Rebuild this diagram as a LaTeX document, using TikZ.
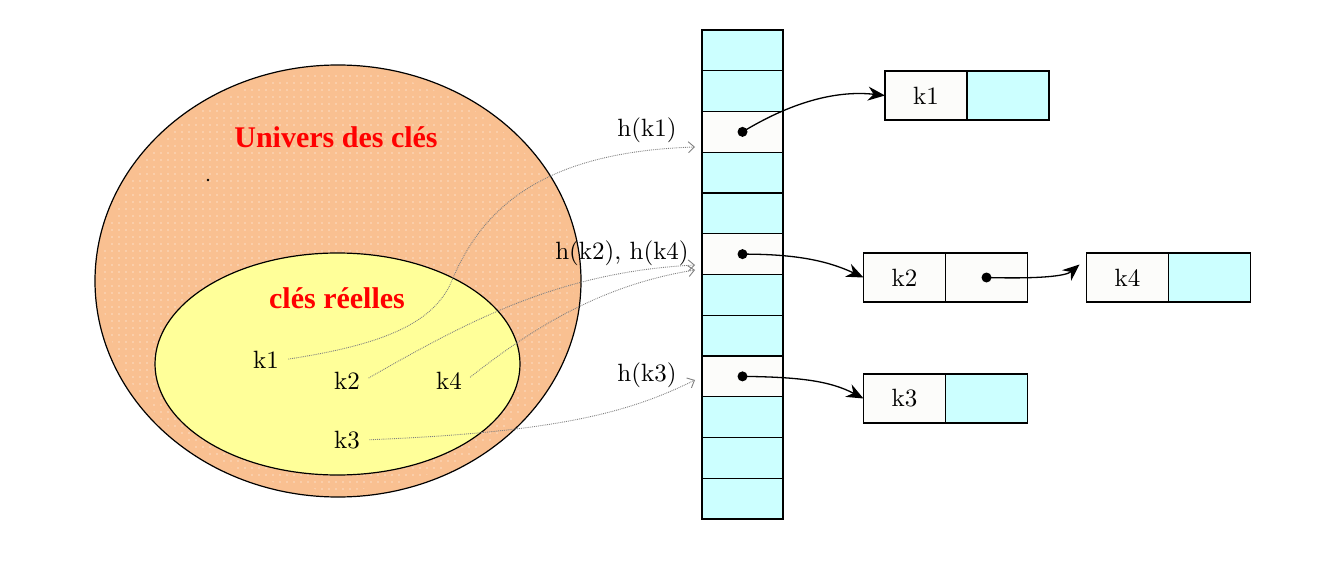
\documentclass[tikz,border=0pt]{standalone}
\usepackage{fontspec}
\newfontfamily\titrefont{Liberation Serif}
\newfontfamily\clefont{lmroman10-regular.otf}
\usetikzlibrary{positioning,arrows.meta,patterns.meta}

\definecolor{peche}{RGB}{249,192,145}
\definecolor{jaune}{RGB}{255,255,153}
\definecolor{cyanclair}{RGB}{204,255,255}
\definecolor{blanccase}{RGB}{252,252,250}

\tikzset{
  casetab/.style={draw, line width=1.2pt, minimum width=81pt, minimum height=40.75pt,
    inner sep=0pt, outer sep=0pt},
  boite/.style={draw, line width=1.2pt, minimum width=82pt, minimum height=49pt,
    inner sep=0pt, outer sep=0pt, fill=blanccase, font=\clefont\fontsize{25}{28}\selectfont},
  ptr/.style={line width=1.3pt, -{Stealth[length=17pt,width=14pt]}},
  hache/.style={densely dotted, gray, line width=0.9pt, shorten <=6pt,
    -{Straight Barb[length=6pt,width=11pt]}},
  cle/.style={font=\clefont\fontsize{25}{28}\selectfont},
  titre/.style={text=red, font=\titrefont\bfseries\fontsize{30}{34}\selectfont},
}

\begin{document}
\begin{tikzpicture}[x=1pt, y=-1pt]
  \useasboundingbox (0,0) rectangle (1330,580);

  % Univers des clés
  \draw[line width=1.2pt, fill=peche] (338,281) ellipse [x radius=243pt, y radius=216pt];
  \fill[pattern={Dots[distance=7pt, radius=0.6pt]}, pattern color=white]
    (338,281) ellipse [x radius=236pt, y radius=209pt];
  \fill (208,180) circle (1.3pt);
  \node[titre] (univers) at (336,137) {Univers des clés};

  % Clés réelles
  \draw[line width=1.2pt, fill=jaune] (337.5,364) ellipse [x radius=182.5pt, y radius=111pt];
  \node[titre] (reelles) at (337,298) {clés réelles};

  \node[cle] (k1) at (266,360) {k1};
  \node[cle] (k2) at (347,381) {k2};
  \node[cle] (k4) at (449,381) {k4};
  \node[cle] (k3) at (347,440) {k3};

  % Table de hachage
  \foreach \i/\fc in {1/cyanclair,2/cyanclair,3/blanccase,4/cyanclair,5/cyanclair,6/blanccase,
                      7/cyanclair,8/cyanclair,9/blanccase,10/cyanclair,11/cyanclair,12/cyanclair}
    \node[casetab, fill=\fc] (c\i) at (742.5,{30+40.75*(\i-0.5)}) {};

  % Valeurs h(k)
  \node[cle] (hk1) at (647,130) {h(k1)};
  \node[cle] (hk24) at (622,253) {h(k2), h(k4)};
  \node[cle] (hk3) at (647,375) {h(k3)};
  \coordinate (e1) at (695,147);
  \coordinate (e2) at (695,265);
  \coordinate (e4) at (695,270);
  \coordinate (e3) at (695,380);

  % Fonction de hachage (pointillés)
  \draw[hache] (k1.east) .. controls (380,345) and (430,325) .. (450,285)
               .. controls (480,210) and (540,152) .. (e1);
  \draw[hache] (k2.east) .. controls (470,320) and (560,272) .. (e2);
  \draw[hache] (k4.east) .. controls (530,330) and (600,285) .. (e4);
  \draw[hache] (k3.east) .. controls (560,432) and (630,412) .. (e3);

  % Listes chaînées
  \node[boite] (k1key) at (926,95.5) {k1};
  \node[boite, fill=cyanclair, right=0pt of k1key] (k1next) {};
  \node[boite] (k2key) at (904.5,277.5) {k2};
  \node[boite, right=0pt of k2key] (k2next) {};
  \node[boite] (k4key) at (1127.5,277.5) {k4};
  \node[boite, fill=cyanclair, right=0pt of k4key] (k4next) {};
  \node[boite] (k3key) at (904.5,398.5) {k3};
  \node[boite, fill=cyanclair, right=0pt of k3key] (k3next) {};

  % Pointeurs
  \draw[ptr] (c3.center) .. controls (790,103) and (835,90) .. (k1key.west);
  \draw[ptr] (c6.center) .. controls (800,254) and (830,262) .. (k2key.west);
  \draw[ptr] (k2next.center) .. controls (1040,279) and (1066,276)
    .. ([xshift=-7pt, yshift=13pt]k4key.west);
  \draw[ptr] (c9.center) .. controls (800,377) and (830,381) .. (k3key.west);
  \foreach \p in {c3,c6,c9,k2next}
    \fill (\p.center) circle (5pt);
\end{tikzpicture}
\end{document}
